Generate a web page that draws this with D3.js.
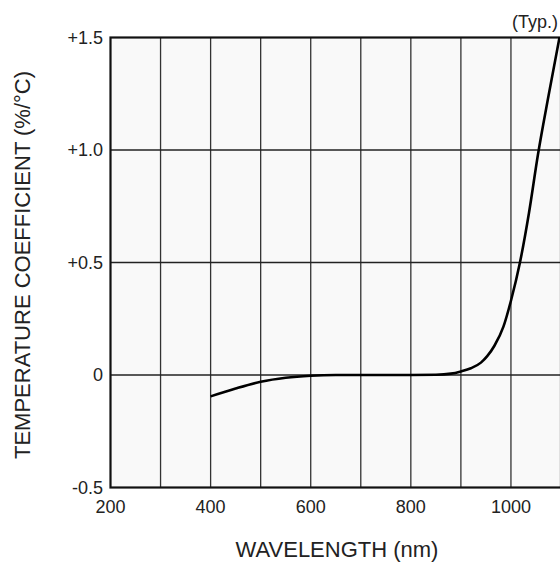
<!DOCTYPE html>
<html>
<head>
<meta charset="utf-8">
<script src="https://cdn.jsdelivr.net/npm/d3@7"></script>
<style>
  body { margin: 0; background: #fff; }
  text { font-family: "Liberation Sans", Arial, sans-serif; fill: #222; }
</style>
</head>
<body>
<div id="chart"></div>
<script>
// wavelength (nm) vs temperature coefficient (%/°C)
var wavelength = [400, 450, 500, 550, 600, 650, 700, 800, 850, 880, 900, 920, 940, 953, 967, 985, 1000, 1018, 1036, 1054, 1075, 1097];
var tempCoef   = [-0.095, -0.06, -0.03, -0.012, -0.003, 0, 0, 0, 0.001, 0.006, 0.016, 0.03, 0.055, 0.085, 0.13, 0.215, 0.33, 0.5, 0.72, 0.98, 1.24, 1.5];

var xTickLabels = [200, 400, 600, 800, 1000];
var xGrid = [300, 400, 500, 600, 700, 800, 900, 1000];
var yTicks = [-0.5, 0, 0.5, 1.0, 1.5];
var yTickLabels = ["-0.5", "0", "+0.5", "+1.0", "+1.5"];

var svg = d3.select("#chart").append("svg").attr("width", 560).attr("height", 571);

var x = d3.scaleLinear().domain([200, 1100]).range([110.5, 561]);
var y = d3.scaleLinear().domain([-0.5, 1.5]).range([487.5, 37.5]);

// plot background
svg.append("rect")
  .attr("x", x(200)).attr("y", y(1.5))
  .attr("width", x(1100) - x(200)).attr("height", y(-0.5) - y(1.5))
  .attr("fill", "#f9f9f9");

// grid
svg.selectAll(".vgrid").data(xGrid).enter().append("line")
  .attr("class", "vgrid")
  .attr("x1", function (d) { return x(d); }).attr("x2", function (d) { return x(d); })
  .attr("y1", y(1.5)).attr("y2", y(-0.5))
  .attr("stroke", "#333").attr("stroke-width", 1.3);

svg.selectAll(".hgrid").data([0, 0.5, 1.0]).enter().append("line")
  .attr("class", "hgrid")
  .attr("x1", x(200)).attr("x2", x(1100))
  .attr("y1", function (d) { return y(d); }).attr("y2", function (d) { return y(d); })
  .attr("stroke", "#222").attr("stroke-width", 1.3);

// frame
svg.append("rect")
  .attr("x", x(200)).attr("y", y(1.5))
  .attr("width", x(1100) - x(200)).attr("height", y(-0.5) - y(1.5))
  .attr("fill", "none").attr("stroke", "#111").attr("stroke-width", 2.2);

// tick labels
svg.selectAll(".ylab").data(yTicks).enter().append("text")
  .attr("class", "ylab")
  .attr("x", 103)
  .attr("y", function (d) { return y(d); })
  .attr("dy", "0.35em")
  .attr("text-anchor", "end")
  .style("font-size", "18px")
  .text(function (d, i) { return yTickLabels[i]; });

svg.selectAll(".xlab").data(xTickLabels).enter().append("text")
  .attr("class", "xlab")
  .attr("x", function (d) { return x(d); })
  .attr("y", 513)
  .attr("text-anchor", "middle")
  .style("font-size", "18px")
  .text(function (d) { return d; });

// curve
var pts = wavelength.map(function (w, i) { return [w, tempCoef[i]]; });
var line = d3.line()
  .x(function (d) { return x(d[0]); })
  .y(function (d) { return y(d[1]); })
  .curve(d3.curveMonotoneX);

svg.append("path")
  .datum(pts)
  .attr("d", line)
  .attr("fill", "none")
  .attr("stroke", "#000")
  .attr("stroke-width", 2.6);

// titles
svg.append("text")
  .attr("transform", "translate(30,265) rotate(-90)")
  .attr("text-anchor", "middle")
  .style("font-size", "22px")
  .text("TEMPERATURE COEFFICIENT (%/°C)");

svg.append("text")
  .attr("x", 337).attr("y", 557)
  .attr("text-anchor", "middle")
  .style("font-size", "22px")
  .text("WAVELENGTH (nm)");

svg.append("text")
  .attr("x", 558).attr("y", 28)
  .attr("text-anchor", "end")
  .style("font-size", "18px")
  .text("(Typ.)");
</script>
</body>
</html>
